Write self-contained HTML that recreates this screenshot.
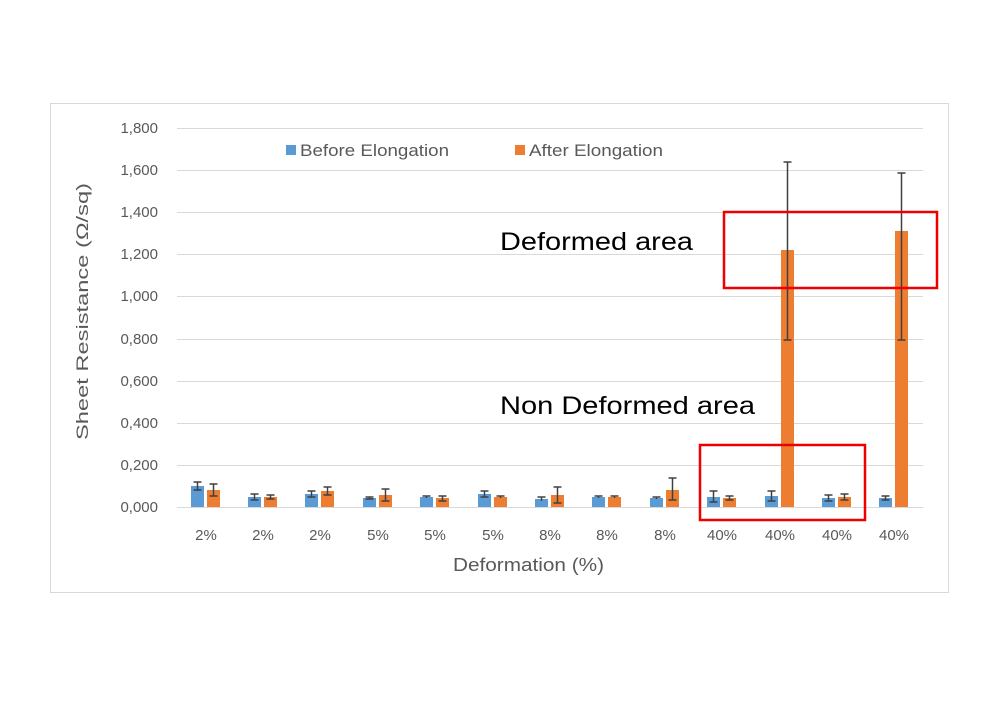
<!DOCTYPE html>
<html><head><meta charset="utf-8"><style>body{margin:0;background:#fff}svg{display:block}</style></head><body>
<svg width="1000" height="706" xmlns="http://www.w3.org/2000/svg" font-family="Liberation Sans, sans-serif">
<rect x="50.5" y="103.5" width="898" height="489" fill="#fff" stroke="#d9d9d9"/>
<g stroke="#d9d9d9" stroke-width="1">
<line x1="177" x2="923" y1="128.5" y2="128.5"/><line x1="177" x2="923" y1="170.5" y2="170.5"/><line x1="177" x2="923" y1="212.5" y2="212.5"/><line x1="177" x2="923" y1="254.5" y2="254.5"/><line x1="177" x2="923" y1="296.5" y2="296.5"/><line x1="177" x2="923" y1="339.5" y2="339.5"/><line x1="177" x2="923" y1="381.5" y2="381.5"/><line x1="177" x2="923" y1="423.5" y2="423.5"/><line x1="177" x2="923" y1="465.5" y2="465.5"/><line x1="177" x2="923" y1="507.5" y2="507.5"/>
</g>
<g font-size="15" fill="#595959" text-anchor="end">
<text x="158" y="133">1,800</text><text x="158" y="175">1,600</text><text x="158" y="217">1,400</text><text x="158" y="259">1,200</text><text x="158" y="301">1,000</text><text x="158" y="344">0,800</text><text x="158" y="386">0,600</text><text x="158" y="428">0,400</text><text x="158" y="470">0,200</text><text x="158" y="512">0,000</text>
</g>
<text transform="translate(88,440) rotate(-90)" font-size="17" fill="#595959" textLength="257" lengthAdjust="spacingAndGlyphs">Sheet Resistance (Ω/sq)</text>
<text x="453" y="571" font-size="18" fill="#595959" textLength="151" lengthAdjust="spacingAndGlyphs">Deformation (%)</text>
<rect x="286" y="145" width="10" height="10" fill="#5b9bd5"/><text x="300" y="156" font-size="17" fill="#595959" textLength="149" lengthAdjust="spacingAndGlyphs">Before Elongation</text>
<rect x="515" y="145" width="10" height="10" fill="#ed7d31"/><text x="529" y="156" font-size="17" fill="#595959" textLength="134" lengthAdjust="spacingAndGlyphs">After Elongation</text>
<g fill="#5b9bd5">
<rect x="191" y="486" width="13" height="21"/><rect x="248" y="497" width="13" height="10"/><rect x="305" y="494" width="13" height="13"/><rect x="363" y="498" width="13" height="9"/><rect x="420" y="497" width="13" height="10"/><rect x="478" y="494" width="13" height="13"/><rect x="535" y="499" width="13" height="8"/><rect x="592" y="497" width="13" height="10"/><rect x="650" y="498" width="13" height="9"/><rect x="707" y="497" width="13" height="10"/><rect x="765" y="496" width="13" height="11"/><rect x="822" y="498" width="13" height="9"/><rect x="879" y="498" width="13" height="9"/>
</g>
<g fill="#ed7d31">
<rect x="207" y="490" width="13" height="17"/><rect x="264" y="497" width="13" height="10"/><rect x="321" y="491" width="13" height="16"/><rect x="379" y="495" width="13" height="12"/><rect x="436" y="498" width="13" height="9"/><rect x="494" y="497" width="13" height="10"/><rect x="551" y="495" width="13" height="12"/><rect x="608" y="497" width="13" height="10"/><rect x="666" y="490" width="13" height="17"/><rect x="723" y="498" width="13" height="9"/><rect x="781" y="250" width="13" height="257"/><rect x="838" y="497" width="13" height="10"/><rect x="895" y="231" width="13" height="276"/>
</g>
<g stroke="#404040" stroke-width="1.5" fill="none">
<path d="M197.5 482V490M193.5 482H201.5M193.5 490H201.5"/>
<path d="M213.5 484V496M209.5 484H217.5M209.5 496H217.5"/>
<path d="M254.5 494V500M250.5 494H258.5M250.5 500H258.5"/>
<path d="M270.5 495V499M266.5 495H274.5M266.5 499H274.5"/>
<path d="M311.5 491V497M307.5 491H315.5M307.5 497H315.5"/>
<path d="M327.5 487V495M323.5 487H331.5M323.5 495H331.5"/>
<path d="M369.5 497V499M365.5 497H373.5M365.5 499H373.5"/>
<path d="M385.5 489V501M381.5 489H389.5M381.5 501H389.5"/>
<path d="M426.5 496V498M422.5 496H430.5"/>
<path d="M442.5 496V501M438.5 496H446.5M438.5 501H446.5"/>
<path d="M484.5 491V497M480.5 491H488.5M480.5 497H488.5"/>
<path d="M500.5 496V498M496.5 496H504.5"/>
<path d="M541.5 497V501M537.5 497H545.5"/>
<path d="M557.5 487V503M553.5 487H561.5M553.5 503H561.5"/>
<path d="M598.5 496V498M594.5 496H602.5"/>
<path d="M614.5 496V498M610.5 496H618.5"/>
<path d="M656.5 497V499M652.5 497H660.5"/>
<path d="M672.5 478V500M668.5 478H676.5M668.5 500H676.5"/>
<path d="M713.5 491V502M709.5 491H717.5M709.5 502H717.5"/>
<path d="M729.5 496V500M725.5 496H733.5M725.5 500H733.5"/>
<path d="M771.5 491V501M767.5 491H775.5M767.5 501H775.5"/>
<path d="M787.5 162V340M783.5 162H791.5M783.5 340H791.5"/>
<path d="M828.5 495V501M824.5 495H832.5M824.5 501H832.5"/>
<path d="M844.5 494V500M840.5 494H848.5M840.5 500H848.5"/>
<path d="M885.5 496V500M881.5 496H889.5M881.5 500H889.5"/>
<path d="M901.5 173V340M897.5 173H905.5M897.5 340H905.5"/>
</g>
<g font-size="15" fill="#595959" text-anchor="middle">
<text x="206" y="540">2%</text><text x="263" y="540">2%</text><text x="320" y="540">2%</text><text x="378" y="540">5%</text><text x="435" y="540">5%</text><text x="493" y="540">5%</text><text x="550" y="540">8%</text><text x="607" y="540">8%</text><text x="665" y="540">8%</text><text x="722" y="540">40%</text><text x="780" y="540">40%</text><text x="837" y="540">40%</text><text x="894" y="540">40%</text>
</g>
<text x="500" y="250" font-size="25" fill="#000" textLength="193" lengthAdjust="spacingAndGlyphs">Deformed area</text>
<text x="500" y="414" font-size="25" fill="#000" textLength="255" lengthAdjust="spacingAndGlyphs">Non Deformed area</text>
<rect x="724" y="212" width="213" height="76" fill="none" stroke="#e00" stroke-width="2.5"/>
<rect x="700" y="445" width="165" height="75" fill="none" stroke="#e00" stroke-width="2.5"/>
</svg></body></html>
